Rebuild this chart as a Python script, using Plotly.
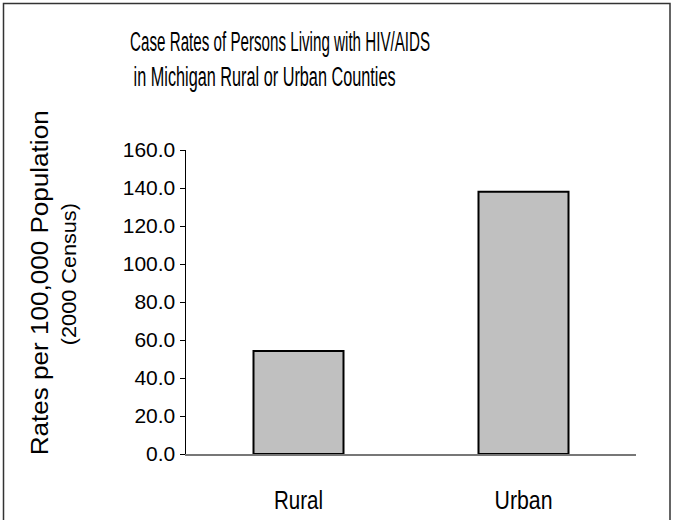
import json
import plotly.graph_objects as go

categories = ["Rural", "Urban"]
rates = [54.2, 138.0]
y_ticks = [0, 20, 40, 60, 80, 100, 120, 140, 160]
title_lines = ["Case Rates of Persons Living with HIV/AIDS",
               "in Michigan Rural or Urban Counties"]
y_title_lines = ["Rates per 100,000 Population", "(2000 Census)"]

W, H = 676, 520
L, R, T, B = 186, 40, 150, 66
PW, PH = W - L - R, H - T - B

def px(x):
    return (x - L) / PW

def py(y):
    return (H - B - y) / PH

FONT = "Liberation Sans, Arial, sans-serif"

fig = go.Figure(
    go.Bar(
        x=categories,
        y=rates,
        marker=dict(color="#c0c0c0", line=dict(color="#000000", width=2)),
        hoverinfo="skip",
    )
)

fig.update_layout(
    width=W,
    height=H,
    margin=dict(l=L, r=R, t=T, b=B),
    paper_bgcolor="white",
    plot_bgcolor="white",
    bargap=0.6,
    showlegend=False,
    xaxis=dict(
        showline=True,
        linecolor="#777777",
        linewidth=1.5,
        ticks="outside",
        ticklen=23,
        tickcolor="rgba(0,0,0,0)",
        tickfont=dict(family=FONT, size=25, color="black"),
        showgrid=False,
        automargin=False,
    ),
    yaxis=dict(
        range=[0, 160],
        tickvals=y_ticks,
        tickformat=".1f",
        showline=True,
        linecolor="black",
        linewidth=1.5,
        ticks="outside",
        ticklen=5,
        tickcolor="black",
        tickfont=dict(family=FONT, size=21, color="black"),
        showgrid=False,
        zeroline=False,
        automargin=False,
    ),
)

# title lines (centre x, centre y in px)
for text, cx, cy in zip(title_lines, [280, 264], [42, 77]):
    fig.add_annotation(
        text=text, xref="paper", yref="paper", x=px(cx), y=py(cy),
        xanchor="center", yanchor="middle", showarrow=False,
        font=dict(family=FONT, size=27, color="black"),
    )

# y-axis title lines
for text, cx, cy, fs in zip(y_title_lines, [40, 68], [283, 274], [23, 21]):
    fig.add_annotation(
        text=text, xref="paper", yref="paper", x=px(cx), y=py(cy),
        xanchor="center", yanchor="middle", showarrow=False, textangle=-90,
        font=dict(family=FONT, size=fs, color="black"),
    )

# frame: left, top and right edges (bottom edge lies below the picture)
xl, xr, yt, yb = px(3.5), px(670), py(3.5), py(520)
fig.add_shape(
    type="path", xref="paper", yref="paper",
    path=f"M {xl},{yb} L {xl},{yt} L {xr},{yt} L {xr},{yb}",
    line=dict(color="#333333", width=1.5),
)

# rendered text lengths (px) to mimic the condensed face of the original
text_lengths = {
    title_lines[0]: 300,
    title_lines[1]: 262,
    "Rural": 49,
    "Urban": 58,
    y_title_lines[0]: 345,
    y_title_lines[1]: 142,
}

post = """
(function(){
  document.documentElement.style.margin='0';
  document.body.style.margin='0';
  document.body.style.overflow='hidden';
  var gd = document.getElementById('{plot_id}');
  var targets = TARGETS;
  gd.querySelectorAll('text').forEach(function(t){
    var s = t.textContent;
    if (Object.prototype.hasOwnProperty.call(targets, s)) {
      t.setAttribute('textLength', targets[s]);
      t.setAttribute('lengthAdjust', 'spacingAndGlyphs');
    }
  });
})();
""".replace("TARGETS", json.dumps(text_lengths))

fig.write_html("out.html", post_script=post,
               config={"displayModeBar": False, "staticPlot": True})
